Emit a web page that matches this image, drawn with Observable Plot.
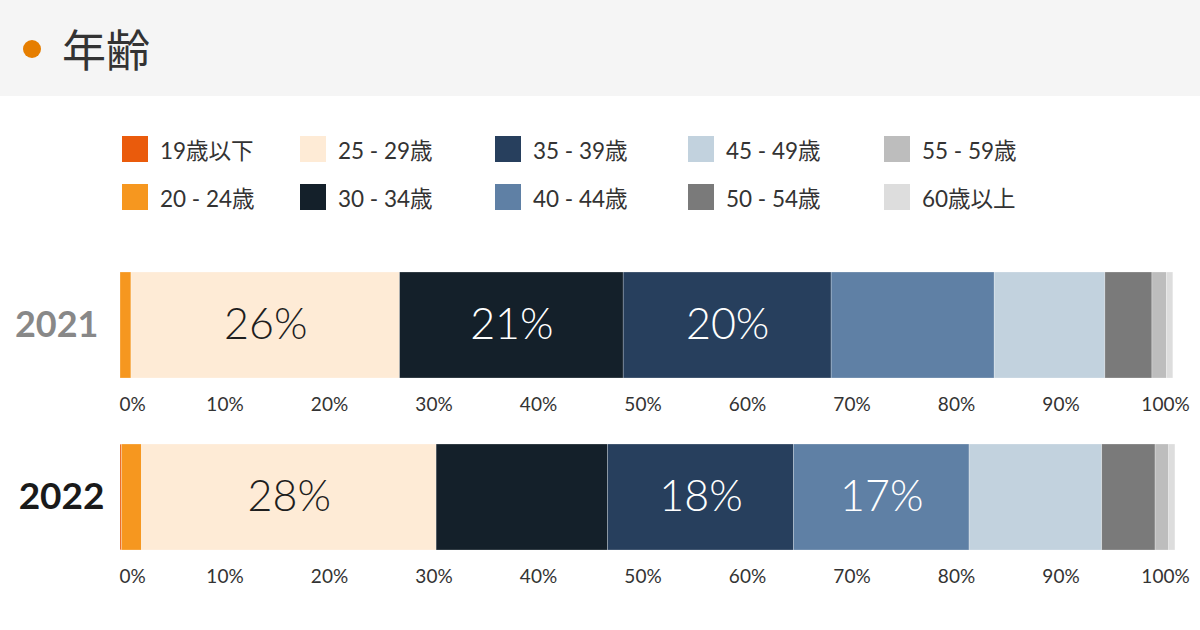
<!DOCTYPE html>
<html><head><meta charset="utf-8">
<script src="https://cdn.jsdelivr.net/npm/d3@7"></script>
<script src="https://cdn.jsdelivr.net/npm/@observablehq/plot@0.6"></script>
<style>
body{margin:0;background:#fff;width:1200px;height:630px;overflow:hidden;position:relative;font-family:Lato,"Noto Sans CJK JP",sans-serif;}
#header{position:absolute;left:0;top:0;width:1200px;height:96px;background:#f5f5f5;}
#dot{position:absolute;left:23px;top:40px;width:18px;height:18px;border-radius:50%;background:#e67e00;}
#title{position:absolute;left:62px;top:26px;font-size:44px;line-height:44px;color:#333;font-family:"Noto Sans CJK JP",sans-serif;}
.lg{position:absolute;display:flex;align-items:center;height:26px;}
.sw{width:26px;height:26px;margin-right:12px;box-sizing:border-box;}
.lt{font-size:22.5px;color:#333;white-space:nowrap;font-family:Lato,"Noto Sans CJK JP",sans-serif;}
#chart{position:absolute;left:0;top:240px;}
</style></head><body>
<div id="header"><div id="dot"></div><div id="title"></div></div>
<div id="legend"></div>
<div id="chart"></div>
<script>
const title = "年齢";
const years = ["2021", "2022"];
const categories = ["19歳以下", "20 - 24歳", "25 - 29歳", "30 - 34歳", "35 - 39歳", "40 - 44歳", "45 - 49歳", "50 - 54歳", "55 - 59歳", "60歳以上"];
const colors = ["#ea5b0c", "#f6971f", "#feebd6", "#14202a", "#273f5d", "#5f80a5", "#c2d2de", "#7a7a7a", "#bdbdbd", "#dddddd"];
const values2021 = [0, 1.05, 25.7, 21.4, 19.9, 15.6, 10.6, 4.5, 1.4, 0.6];
const values2022 = [0.15, 1.9, 28.2, 16.4, 17.8, 16.8, 12.7, 5.1, 1.3, 0.6];
const labels2021 = ["", "", "26%", "21%", "20%", "", "", "", "", ""];
const labels2022 = ["", "", "28%", "", "18%", "17%", "", "", "", ""];
const xTicks = [0, 10, 20, 30, 40, 50, 60, 70, 80, 90, 100];

// layout
const legendCols = [122, 300, 495, 688, 884];
const legendRows = [136, 184];

document.getElementById("title").textContent = title;
const legend = document.getElementById("legend");
categories.forEach((c, i) => {
  const el = document.createElement("div");
  el.className = "lg";
  el.style.left = legendCols[Math.floor(i / 2)] + "px";
  el.style.top = legendRows[i % 2] + "px";
  el.innerHTML = `<div class="sw" style="background:${colors[i]}"></div><div class="lt">${c}</div>`;
  legend.appendChild(el);
});

const valuesByYear = [values2021, values2022];
const labelsByYear = [labels2021, labels2022];
const data = [];
years.forEach((y, yi) => categories.forEach((c, i) => {
  data.push({year: y, category: c, value: valuesByYear[yi][i], label: labelsByYear[yi][i]});
}));
const ticks = [];
years.forEach(y => xTicks.forEach(t => ticks.push({year: y, x: t})));

const labelFont = {fontSize: 43, fontWeight: 300, fontFamily: "Lato, 'Noto Sans CJK JP', sans-serif"};

const chart = Plot.plot({
  width: 1200,
  height: 390,
  marginLeft: 120,
  marginRight: 35,
  marginTop: 32,
  marginBottom: 79.5,
  style: {fontFamily: "Lato, 'Noto Sans CJK JP', sans-serif", background: "transparent"},
  x: {domain: [0, 100], axis: null},
  y: {domain: years, axis: null, paddingInner: 0.381, paddingOuter: 0},
  color: {domain: categories, range: colors},
  marks: [
    Plot.ruleX(ticks, {x: "x", y: "year", insetTop: -7, insetBottom: -8, stroke: "#e4e4e4", strokeWidth: 1}),
    Plot.barX(data, Plot.stackX({x: "value", y: "year", fill: "category", stroke: "#ffffff", strokeWidth: 0.5, strokeOpacity: 0.5})),
    Plot.text(data, Plot.stackX({x: "value", y: "year", text: d => d.category === categories[2] ? d.label : "", fill: "#1e1e1e", ...labelFont})),
    Plot.text(data, Plot.stackX({x: "value", y: "year", text: d => d.category !== categories[2] ? d.label : "", fill: "#ffffff", ...labelFont})),
    Plot.text(ticks.filter(d => d.x !== 0), {x: "x", y: "year", text: d => d.x + "%", dy: 79, fontSize: 19, fill: "#333"}),
    Plot.text(ticks.filter(d => d.x === 0), {x: "x", y: "year", text: d => d.x + "%", dy: 79, dx: -1, textAnchor: "start", fontSize: 19, fill: "#333"}),
    Plot.text([years[0]], {y: d => d, text: d => d, frameAnchor: "left", textAnchor: "end", dx: -22, fontSize: 36, fontWeight: "bold", fill: "#888"}),
    Plot.text([years[1]], {y: d => d, text: d => d, frameAnchor: "left", textAnchor: "end", dx: -16, fontSize: 37, fontWeight: "bold", fill: "#1a1a1a"})
  ]
});
document.getElementById("chart").appendChild(chart);
</script>
</body></html>
